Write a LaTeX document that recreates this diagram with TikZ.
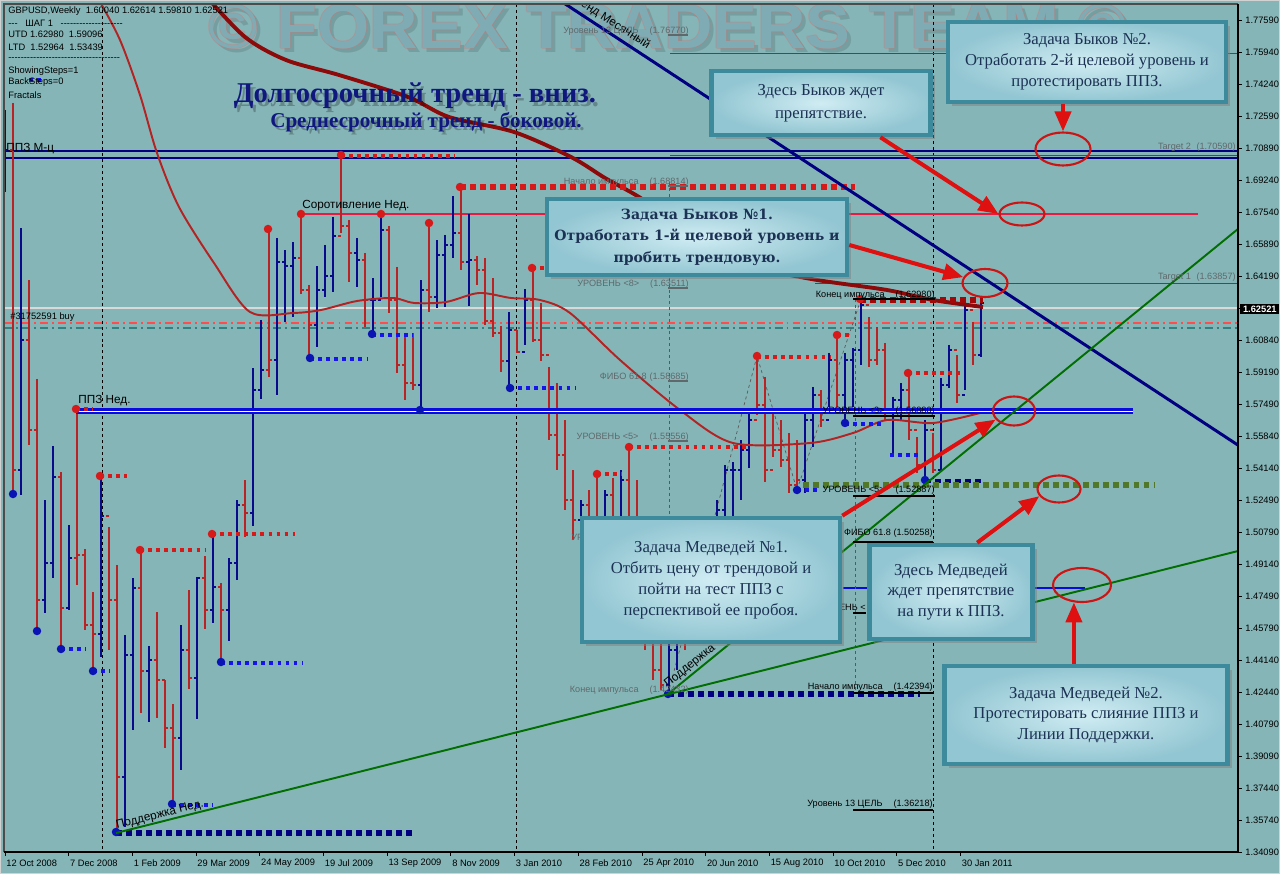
\documentclass[tikz,border=0pt]{standalone}
\usepackage{fontspec}
\setmainfont{Liberation Serif}
\setsansfont{Liberation Sans}
\newfontfamily\dejaserif{DejaVu Serif}
\usepackage{tikz}
\usepackage{xcolor}
\usetikzlibrary{calc,shapes.geometric,arrows.meta,shadows}

\definecolor{chartbg}{RGB}{134,181,183}
\definecolor{wmfill}{RGB}{127,172,180}
\definecolor{wmred}{RGB}{205,120,120}
\definecolor{barred}{RGB}{185,35,35}
\definecolor{barblue}{RGB}{10,10,140}
\definecolor{fracred}{RGB}{215,25,25}
\definecolor{fracblue}{RGB}{10,20,180}
\definecolor{dotblue}{RGB}{20,20,235}
\definecolor{navytrend}{RGB}{0,0,128}
\definecolor{ppzblue}{RGB}{10,10,220}
\definecolor{suppgreen}{RGB}{0,110,0}
\definecolor{olivedot}{RGB}{80,120,40}
\definecolor{resred}{RGB}{232,26,66}
\definecolor{maslow}{RGB}{140,10,10}
\definecolor{mafast}{RGB}{180,35,35}
\definecolor{lvlgray}{RGB}{95,105,108}
\definecolor{boxrim}{RGB}{60,138,156}
\definecolor{boxin}{RGB}{208,236,243}
\definecolor{boxout}{RGB}{146,198,210}
\definecolor{boxtext}{RGB}{28,50,84}
\definecolor{headblue}{RGB}{16,24,128}
\definecolor{arrowred}{RGB}{222,16,16}
\definecolor{ringred}{RGB}{205,20,20}

\newcommand\wmtext{\scalebox{1.06}[1]{© FOREX TRADERS TEAM ©}}
\newcommand\dashrun[1]{\foreach \n in {1,...,#1}{-\kern0pt}}

\tikzset{
  notebox/.style={ % light blue note with a teal rim
    draw=boxrim, line width=2.6pt, inner color=boxin, outer color=boxout,
    drop shadow={shadow xshift=2.5pt, shadow yshift=-2.5pt, opacity=0.5},
    align=center, text=boxtext, inner sep=2pt,
    font=\fontsize{9.5}{11.9}\selectfont
  },
  ring/.style={ % red ellipse round a target
    draw=ringred, line width=1.2pt, ellipse, inner sep=0pt
  },
  pointer/.style={ % thick red arrow of a note
    draw=arrowred, line width=2.3pt, -{Triangle[length=0.4cm, width=0.32cm]}
  },
  u bar/.style={draw=barblue, line width=0.75pt},
  d bar/.style={draw=barred, line width=0.75pt},
  red dots/.style={draw=fracred, line width=2pt, dash pattern=on 2pt off 2.6pt},
  blue dots/.style={draw=dotblue, line width=2pt, dash pattern=on 2pt off 2.6pt},
  fat dots/.style={line width=3.3pt, dash pattern=on 3.4pt off 2.3pt},
  year sep/.style={black, line width=0.5pt, dash pattern=on 1.7pt off 1.7pt},
  guide/.style={gray!70!black, line width=0.4pt, dash pattern=on 1.7pt off 1.7pt},
  info text/.style={font=\sffamily\fontsize{5.3}{6}\selectfont, inner sep=0pt, anchor=west},
  axis text/.style={font=\sffamily\fontsize{5.3}{6}\selectfont, inner sep=0pt},
  chart label/.style={font=\sffamily\fontsize{6.7}{8}\selectfont, inner sep=0pt},
  lvl gray/.style={font=\sffamily\fontsize{5.2}{6}\selectfont, text=lvlgray, inner sep=0pt, anchor=east},
  lvl black/.style={font=\sffamily\fontsize{5.2}{6}\selectfont, inner sep=0pt, anchor=east},
  lvl rule/.style={line width=1.1pt},
  headline/.style={font=\bfseries\fontsize{16.3}{18}\selectfont, text=headblue},
  subline/.style={font=\bfseries\fontsize{12}{14}\selectfont, text=headblue},
  watermark/.style={font=\sffamily\bfseries\fontsize{36}{36}\selectfont, inner sep=0pt}
}

\begin{document}
\begin{tikzpicture}[x=0.02cm, y=-0.02cm]
  \useasboundingbox (0,0) rectangle (1280,874);
  \fill[chartbg] (0,0) rectangle (1280,874);
  \draw[gray!35, line width=1.7pt] (0,0) rectangle (1280,874);

  \begin{scope}
    \clip (4,4) rectangle (1238,852);

    % watermark
    \node[watermark, text=black, opacity=0.12] (wm_shade) at (672,31) {\wmtext};
    \foreach \dx/\dy [count=\n] in {-1/0,1/0,0/-1,0/1}
      \node[watermark, text=wmred, opacity=0.35] (wm_edge\n) at (668+\dx,27+\dy) {\wmtext};
    \node[watermark, text=wmfill] (wm_text) at (668,27) {\wmtext};

    \foreach \x in {102,516,933}
      \draw[year sep] (\x,4) -- (\x,852);

    % levels across the chart
    \draw[gray!60!black, line width=0.5pt] (670,53) -- (1238,53) (670,155) -- (1238,155) (815,283) -- (1238,283);
    \draw[gray!30, line width=0.6pt] (4,308) -- (1238,308);
    \draw[red!70, line width=0.6pt, dash pattern=on 4.5pt off 2.3pt on 1.1pt off 2.3pt] (4,323) -- (1238,323);
    \draw[teal!60!gray, line width=0.6pt, dash pattern=on 4.5pt off 2.3pt on 1.1pt off 2.3pt] (4,328) -- (1238,328);
    \draw[navytrend, line width=1.1pt] (4,151) -- (1238,151) (4,158) -- (1238,158);
    \draw[resred, line width=1.7pt] (301,214) -- (1198,214);
    \draw[ppzblue, line width=0.9pt] (843,588) -- (1085,588);

    \draw[guide] (668,694) -- (757,356) -- (797,490) -- (861,299);
    \draw[guide] (669,182) -- (669,694) (855,299) -- (855,694);

    % weekly bars: x / high / low / close / colour
    \gdef\prevc{150}
    \foreach \x/\h/\l/\c/\k in {5/110/192/150/u, 13/103/494/470/d, 21/228/495/340/u, 29/280/445/430/d,
      37/379/631/600/d, 45/500/613/563/u, 53/446/578/477/u, 61/472/649/608/d, 69/525/610/558/u,
      77/408/585/555/d, 85/549/630/625/d, 93/592/671/634/d, 101/476/657/516/u, 109/527/650/600/d,
      117/565/833/777/d, 125/635/827/655/u, 133/578/730/588/u, 141/549/713/671/d, 149/646/722/660/u,
      157/612/718/680/d, 165/680/748/728/d, 173/704/803/738/d, 181/625/770/650/u, 189/590/689/678/d,
      197/577/719/578/u, 205/556/629/610/d, 213/533/623/587/u, 221/583/662/610/d, 229/558/641/563/u,
      237/500/580/505/u, 245/480/537/513/d, 253/368/526/390/u, 261/320/399/370/u, 269/229/377/360/d,
      277/238/395/262/u, 285/250/322/266/u, 293/242/317/258/u, 301/214/294/290/d, 309/285/359/325/d,
      317/266/347/290/u, 325/245/297/276/u, 333/217/292/236/u, 341/155/233/226/d, 349/220/282/253/d,
      357/238/287/260/u, 365/253/327/300/d, 373/278/334/300/u, 381/213/297/230/u, 389/226/313/300/d,
      397/267/373/365/d, 405/333/400/383/d, 413/333/390/385/d, 421/280/410/290/u, 429/223/312/297/d,
      437/240/308/255/u, 445/235/307/245/u, 453/196/258/233/u, 461/188/270/262/d, 469/214/306/260/u,
      477/256/285/270/d, 485/258/325/321/d, 493/278/337/333/d, 501/326/372/361/d, 509/312/388/330/u,
      517/330/353/352/d, 525/289/345/300/u, 533/268/342/340/d, 541/303/361/355/d, 549/367/440/435/d,
      557/383/470/455/d, 565/420/510/500/d, 573/470/540/520/d, 581/500/560/505/u, 589/490/570/540/d,
      597/474/540/525/d, 605/490/560/495/u, 613/478/560/540/d, 621/470/545/480/u, 629/447/560/540/d,
      637/480/600/590/d, 645/560/650/640/d, 653/600/680/670/d, 661/640/690/685/d, 669/640/694/650/u,
      677/600/670/620/u, 685/590/650/630/d, 693/560/640/570/u, 701/530/600/540/u, 709/520/580/560/d,
      717/500/570/510/u, 725/465/540/470/u, 733/462/530/470/u, 741/440/500/450/u, 749/413/468/420/u,
      757/356/415/405/d, 765/377/482/470/d, 773/413/457/450/d, 781/420/467/460/d, 789/433/493/485/d,
      797/440/490/480/d, 805/410/493/420/u, 813/387/447/395/u, 821/390/427/420/d, 829/353/407/360/u,
      837/335/407/395/d, 845/353/423/360/u, 853/348/407/350/u, 861/299/365/305/u, 869/317/367/360/d,
      877/327/365/350/d, 885/343/420/410/d, 893/397/453/400/u, 901/383/420/390/u, 909/373/440/430/d,
      917/437/473/465/d, 925/420/481/430/u, 933/433/473/470/d, 941/378/470/385/u, 949/345/388/350/u,
      957/355/403/395/d, 965/303/390/310/u, 973/322/365/355/d, 981/300/357/303/u}{
      \draw[\k\space bar] (\x,\h) -- (\x,\l) (\x-3,\prevc) -- (\x,\prevc) (\x,\c) -- (\x+3,\c);
      \xdef\prevc{\c}
    }

    % moving averages
    \draw[maslow, line width=2.2pt] plot[smooth] coordinates {(205,-5) (245,37) (286,60) (339,75) (408,97)
      (449,117) (514,132) (571,157) (605,178) (639,197) (680,225) (720,250) (760,268) (817,280)
      (887,290) (933,300) (983,307)};
    \draw[mafast, line width=1.1pt] plot[smooth] coordinates {(99,0) (120,40) (140,95) (157,153) (179,207)
      (214,263) (250,312) (293,313) (321,310) (357,301) (393,298) (414,303) (446,302) (479,293)
      (511,298) (540,300) (570,313) (620,360) (680,410) (733,443) (810,443) (853,433) (887,420)
      (933,423) (980,413)};

    % ППЗ Нед.
    \draw[ppzblue, line width=3.2pt] (76,411) -- (1133,411);
    \draw[white, line width=0.5pt] (76,411) -- (1133,411);

    % fractal levels
    \foreach \x/\y/\e in {76/409/93, 100/476/127, 140/550/205, 212/534/295, 341/156/455, 532/268/545,
      597/474/622, 629/447/750, 757/357/830, 837/335/853, 908/373/960}
      \draw[red dots] (\x,\y) -- (\e,\y);
    \foreach \x/\y/\e in {61/649/86, 93/671/110, 172/805/213, 221/663/302, 310/359/367, 372/335/413,
      510/388/575, 797/490/820, 845/424/882, 890/455/918, 29/80/45}
      \draw[blue dots] (\x,\y) -- (\e,\y);
    \draw[fat dots, fracred] (460,187) -- (855,187);
    \draw[fat dots, maslow!80!red] (860,300) -- (983,300);
    \draw[fat dots, navytrend] (116,833) -- (415,833) (668,694) -- (920,694);
    \draw[fat dots, navytrend, line width=2.4pt] (925,481) -- (983,481);
    \draw[fat dots, olivedot] (803,485) -- (1155,485);

    % fractals
    \foreach \x/\y in {76/409, 100/476, 140/550, 212/534, 268/229, 301/214, 341/155, 381/214, 429/223,
      460/187, 532/268, 597/474, 629/447, 757/356, 837/335, 860/299, 908/373}
      \fill[fracred] (\x,\y) circle[radius=0.085cm];
    \foreach \x/\y in {13/494, 37/631, 61/649, 93/671, 116/832, 172/804, 221/662, 310/358, 372/334,
      420/410, 510/388, 668/694, 797/490, 845/423, 925/480}
      \fill[fracblue] (\x,\y) circle[radius=0.085cm];

    % trend lines
    \draw[navytrend, line width=1.7pt] (550,-6) -- (1250,453);
    \draw[suppgreen, line width=1.1pt] (116,833) -- (1250,548);
    \draw[suppgreen, line width=1.1pt] (668,694) -- (1260,211);

    % chart labels
    \node[chart label, anchor=west] (ppz_month) at (6,149) {ППЗ М-ц};
    \node[chart label, anchor=west] (res_week) at (302,206) {Соротивление Нед.};
    \node[chart label, anchor=west] (ppz_week) at (78,401) {ППЗ Нед.};
    \node[chart label, rotate=-33] (trend_month) at (610,21) {Тренд Месячный};
    \node[chart label, rotate=14] (supp_week) at (160,815) {Поддержка Нед.};
    \node[chart label, rotate=39] (supp_line) at (690,666) {Поддержка};

    \node[lvl gray] (lv_target13) at (689,31) {Уровень 13 ЦЕЛЬ\hspace{1.2em}(1.76770)};
    \node[lvl gray] (lv_start_hi) at (689,182) {Начало импульса\hspace{1.2em}(1.68814)};
    \node[lvl gray] (lv_u8) at (689,284) {УРОВЕНЬ <8>\hspace{1.2em}(1.63511)};
    \node[lvl gray] (lv_fibo_hi) at (689,377) {ФИБО 61.8\hspace{0.3em}(1.58685)};
    \node[lvl gray] (lv_u5_hi) at (689,437) {УРОВЕНЬ <5>\hspace{1.2em}(1.55556)};
    \node[lvl gray, anchor=west] (lv_u_mid) at (571,537) {УРОВЕНЬ};
    \node[lvl gray] (lv_end_lo) at (689,690) {Конец импульса\hspace{1.2em}(1.42432)};
    \node[lvl gray] (lv_target2) at (1236,147) {Target 2\hspace{0.6em}(1.70590)};
    \node[lvl gray] (lv_target1) at (1236,277) {Target 1\hspace{0.6em}(1.63857)};
    \foreach \y in {35,186,288,381,441}
      \draw[lvl rule, lvlgray] (668,\y) -- (688,\y);

    \node[lvl black] (lv_end_hi) at (935,295) {Конец импульса\hspace{1.2em}(1.62980)};
    \node[lvl black] (lv_u3) at (935,411) {УРОВЕНЬ <3>\hspace{1.2em}(1.56880)};
    \node[lvl black] (lv_u5_lo) at (935,490) {УРОВЕНЬ <5>\hspace{1.2em}(1.52887)};
    \node[lvl black] (lv_fibo_lo) at (933,533) {ФИБО 61.8 (1.50258)};
    \node[lvl black] (lv_u_cut) at (866,607) {УРОВЕНЬ <};
    \node[lvl black] (lv_start_lo) at (933,687) {Начало импульса\hspace{1.2em}(1.42394)};
    \node[lvl black] (lv_target13_lo) at (933,804) {Уровень 13 ЦЕЛЬ\hspace{1.2em}(1.36218)};
    \foreach \y/\a/\b in {299/853/935, 416/853/935, 496/853/935, 542/853/933, 613/853/866, 693/853/933, 810/853/933}
      \draw[lvl rule] (\a,\y) -- (\b,\y);

    % indicator text
    \node[info text] (info1) at (8,11) {GBPUSD,Weekly\ \ 1.60040 1.62614 1.59810 1.62521};
    \node[info text] (info2) at (8,23) {\dashrun{3}\ \ \ ШАГ 1\ \ \ \dashrun{20}};
    \node[info text] (info3) at (8,34) {UTD 1.62980\ \ 1.59096};
    \node[info text] (info4) at (8,47) {LTD\ \ 1.52964\ \ 1.53439};
    \node[info text] (info5) at (8,59) {\dashrun{36}};
    \node[info text] (info6) at (8,71) {ShowingSteps=1};
    \node[info text] (info7) at (8,82) {BackSteps=0};
    \node[info text] (info8) at (8,95) {Fractals};
    \node[info text] (order) at (10,317) {\#31752591 buy};
  \end{scope}

  % frame and axes
  \draw[black!70, line width=0.6pt] (4,852) -- (4,4) -- (1238,4);
  \draw[black, line width=0.6pt] (1238,4) -- (1238,852) -- (4,852);
  \foreach \v [count=\k from 0] in {1.77590,1.75940,1.74240,1.72590,1.70890,1.69240,1.67540,1.65890,
    1.64190,{},1.60840,1.59190,1.57490,1.55840,1.54140,1.52490,1.50790,1.49140,1.47490,1.45790,
    1.44140,1.42440,1.40790,1.39090,1.37440,1.35740,1.34090}{
    \draw[black, line width=0.5pt] (1238,20+32*\k) -- ++(4,0);
    \node[axis text, anchor=west] (p\k) at (1245,20+32*\k) {\v};
  }
  \node[axis text, fill=black, text=white, anchor=west, inner xsep=1.5pt, inner ysep=1.2pt,
    font=\sffamily\bfseries\fontsize{5.3}{6}\selectfont] (p_last) at (1240,309) {1.62521};
  \foreach \d [count=\k from 0] in {12 Oct 2008, 7 Dec 2008, 1 Feb 2009, 29 Mar 2009, 24 May 2009,
    19 Jul 2009, 13 Sep 2009, 8 Nov 2009, 3 Jan 2010, 28 Feb 2010, 25 Apr 2010, 20 Jun 2010,
    15 Aug 2010, 10 Oct 2010, 5 Dec 2010, 30 Jan 2011}{
    \draw[black, line width=0.5pt] (5+63.7*\k,852) -- ++(0,4);
    \node[axis text, anchor=west] (d\k) at (6+63.7*\k,863) {\d};
  }

  % headline
  \node[headline, text=black, opacity=0.25] (title_shade) at (418,100) {Долгосрочный тренд - вниз.};
  \node[headline] (title_text) at (415,96) {Долгосрочный тренд - вниз.};
  \node[subline, text=black, opacity=0.25] (sub_shade) at (429,125) {Среднесрочный тренд - боковой.};
  \node[subline] (sub_text) at (426,122) {Среднесрочный тренд - боковой.};

  % targets
  \node[ring, minimum width=1.1cm, minimum height=0.66cm] (ringA) at (1063,149) {};
  \node[ring, minimum width=0.9cm, minimum height=0.46cm] (ringB) at (1022,214) {};
  \node[ring, minimum width=0.9cm, minimum height=0.56cm] (ringC) at (985,283) {};
  \node[ring, minimum width=0.84cm, minimum height=0.58cm] (ringD) at (1014,411) {};
  \node[ring, minimum width=0.86cm, minimum height=0.54cm] (ringE) at (1059,489) {};
  \node[ring, minimum width=1.16cm, minimum height=0.68cm] (ringF) at (1082,585) {};

  % notes
  \node[notebox, minimum width=5.56cm, minimum height=1.6cm] (bullsTwo) at (1087,62)
    {Задача Быков №2.\\Отработать 2-й целевой уровень и\\протестировать ППЗ.};
  \node[notebox, minimum width=4.38cm, minimum height=1.28cm, font=\fontsize{9.5}{13}\selectfont] (waitBulls) at (821,103)
    {Здесь Быков ждет\\препятствие.};
  \node[notebox, minimum width=6.0cm, minimum height=1.52cm, font=\dejaserif\bfseries\fontsize{8}{12.2}\selectfont] (bullsOne) at (697,237)
    {Задача Быков №1.\\Отработать 1-й целевой уровень и\\пробить трендовую.};
  \node[notebox, minimum width=5.16cm, minimum height=2.48cm] (bearsOne) at (711,580)
    {Задача Медведей №1.\\Отбить цену от трендовой и\\пойти на тест ППЗ с\\перспективой ее пробоя.};
  \node[notebox, minimum width=3.26cm, minimum height=1.88cm] (waitBears) at (951,592)
    {Здесь Медведей\\ждет препятствие\\на пути к ППЗ.};
  \node[notebox, minimum width=5.66cm, minimum height=1.96cm] (bearsTwo) at (1086,715)
    {Задача Медведей №2.\\Протестировать слияние ППЗ и\\Линии Поддержки.};

  \draw[pointer] (bullsTwo.south -| ringA.north) -- (ringA.north);
  \draw[pointer] (waitBulls.-30) -- (ringB.west);
  \draw[pointer] (bullsOne.-3) -- (ringC.165);
  \draw[pointer] (bearsOne.north east) -- (ringD.205);
  \draw[pointer] (waitBears.62) -- (ringE.200);
  \draw[pointer] (bearsTwo.north -| ringF.245) -- (ringF.245);
\end{tikzpicture}
\end{document}
